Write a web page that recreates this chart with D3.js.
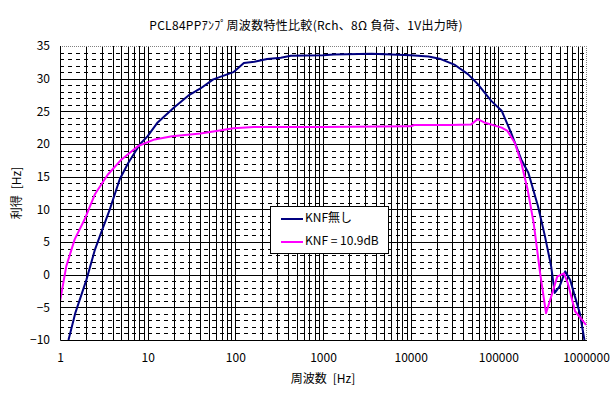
<!DOCTYPE html>
<html><head><meta charset="utf-8">
<script src="https://cdn.jsdelivr.net/npm/d3@7/dist/d3.min.js"></script>
<style>
html,body{margin:0;padding:0;background:#fff;}
text{font-family:"Noto Sans CJK JP","Noto Sans",sans-serif;font-size:12px;fill:#000;white-space:pre;}
</style></head>
<body><svg id="c" width="615" height="397"></svg>
<script>
const title = "PCL84PPｱﾝﾌﾟ周波数特性比較(Rch、8Ω 負荷、1V出力時)";
const xTitle = "周波数\u2002[Hz]";
const yTitle = "利得\u2002[Hz]";
const seriesNames = ["KNF無し", "KNF = 10.9dB"];
const seriesColors = ["#000080", "#ff00ff"];
const xTicks = [1, 10, 100, 1000, 10000, 100000, 1000000];
const yTicks = [-10, -5, 0, 5, 10, 15, 20, 25, 30, 35];

const freqNoNF = [1.25,1.5,2,2.5,2.85,3.7,4.8,6,8.2,10,13,20,29,40,56,95,125,165,230,330,430,1000,1330,3600,10000,16000,22000,32000,45000,58000,83000,109000,140000,183000,220000,283000,340000,400000,440000,500000,580000,660000,750000,850000,960000];
const gainNoNF = [-10,-5.8,-0.8,3.8,5.9,10,14.6,17.1,20,21.2,23.3,25.6,27.4,28.5,29.9,31.0,32.4,32.6,33.0,33.2,33.5,33.6,33.7,33.8,33.6,33.4,33.0,32.1,30.7,29.2,26.6,25.1,21.7,17.6,15.6,10.5,5.9,1.3,-2.8,-1.8,0.5,-0.8,-3.4,-5.9,-10];
const freqNF = [1,1.18,1.47,1.9,2.5,3.5,5,7.8,12,19,40,61,95,162,1000,10000,11000,28000,49000,58000,69000,109000,127000,154000,183000,216000,253000,300000,350000,400000,470000,560000,620000,750000,900000,1000000];
const gainNF = [-4.1,1.3,5.4,8.4,12.3,15.3,17.6,19.7,20.7,21.2,21.6,22.0,22.4,22.6,22.6,22.7,22.9,22.9,23.0,23.8,23.3,22.5,22.0,20.2,17.1,13.0,7.9,0.2,-5.9,-3.4,-0.3,0.2,-1.3,-5.6,-6.9,-7.7];

const L = 60, R = 586, T = 46, B = 340;
const svg = d3.select("#c");
const x = d3.scaleLog().domain([1, 1000000]).range([L, R]);
const y = d3.scaleLinear().domain([-10, 35]).range([B, T]);

// horizontal minor dashed gridlines
const minorY = d3.range(-9, 35).filter(v => v % 5 !== 0);
svg.append("g").selectAll("line").data(minorY).join("line")
  .attr("x1", L).attr("x2", R).attr("y1", d => Math.round(y(d)) + 0.5).attr("y2", d => Math.round(y(d)) + 0.5)
  .attr("stroke", "#000").attr("stroke-width", 1).attr("stroke-dasharray", "4,4");
// horizontal major gridlines
svg.append("g").selectAll("line").data(yTicks.filter(v => v > -10 && v < 35)).join("line")
  .attr("x1", L).attr("x2", R).attr("y1", d => Math.round(y(d)) + 0.5).attr("y2", d => Math.round(y(d)) + 0.5)
  .attr("stroke", "#000").attr("stroke-width", 1);
// vertical gridlines at every log tick
const vLines = [];
for (let e = 0; e < 6; e++) for (let m = 1; m <= 9; m++) { const v = m * Math.pow(10, e); if (v > 1) vLines.push(v); }
svg.append("g").selectAll("line").data(vLines).join("line")
  .attr("x1", d => Math.round(x(d)) + 0.5).attr("x2", d => Math.round(x(d)) + 0.5).attr("y1", T).attr("y2", B)
  .attr("stroke", "#000").attr("stroke-width", 1);

// plot border top/right (gray dotted)
svg.append("path").attr("d", `M${L},${T + 0.5}H${R + 0.5}V${B}`)
  .attr("fill", "none").attr("stroke", "#808080").attr("stroke-width", 1).attr("stroke-dasharray", "1,1");

// clip
svg.append("clipPath").attr("id", "clip").append("rect").attr("x", L).attr("y", T).attr("width", R - L + 1).attr("height", B - T + 1);

const line = d3.line().x(d => x(d[0])).y(d => y(d[1]));
const series = [d3.zip(freqNoNF, gainNoNF), d3.zip(freqNF, gainNF)];
svg.append("g").attr("clip-path", "url(#clip)").selectAll("path").data(series).join("path")
  .attr("d", line).attr("fill", "none").attr("stroke", (d, i) => seriesColors[i]).attr("stroke-width", 2)
  .attr("stroke-linejoin", "round");

// axes lines
svg.append("path").attr("d", `M${L + 0.5},${T}V${B + 0.5}H${R + 1}`).attr("fill", "none").attr("stroke", "#000").attr("stroke-width", 1);

// axis labels
const xAxis = d3.axisBottom(x).tickValues(xTicks).tickFormat(d3.format("d")).tickSize(0).tickPadding(0);
const gx = svg.append("g").attr("transform", `translate(0,${B + 13})`).call(xAxis);
gx.select(".domain").remove();
gx.selectAll("text").attr("font-size", 12).attr("fill", "#000").style("font-family", "'Noto Sans CJK JP',sans-serif");
const yAxis = d3.axisLeft(y).tickValues(yTicks).tickSize(0).tickPadding(0);
const gy = svg.append("g").attr("transform", `translate(${L - 10},0)`).call(yAxis);
gy.select(".domain").remove();
gy.selectAll("text").attr("font-size", 12).attr("fill", "#000").style("font-family", "'Noto Sans CJK JP',sans-serif");

// titles
svg.append("text").attr("x", 306).attr("y", 27).attr("text-anchor", "middle").attr("dominant-baseline", "middle")
  .style("letter-spacing", "0.3px").text(title);
svg.append("text").attr("x", (L + R) / 2).attr("y", 380).attr("text-anchor", "middle").attr("dominant-baseline", "middle").text(xTitle);
svg.append("text").attr("transform", `translate(18,${(T + B) / 2}) rotate(-90)`).attr("text-anchor", "middle").attr("dominant-baseline", "middle").text(yTitle);

// legend
const lg = svg.append("g");
lg.append("rect").attr("x", 270.5).attr("y", 206.5).attr("width", 118).attr("height", 47).attr("fill", "#fff").attr("stroke", "#000").attr("stroke-width", 1);
seriesNames.forEach((n, i) => {
  const ly = 219 + i * 23;
  lg.append("line").attr("x1", 281).attr("x2", 303).attr("y1", ly).attr("y2", ly).attr("stroke", seriesColors[i]).attr("stroke-width", 2);
  lg.append("text").attr("x", 305).attr("y", ly).attr("dominant-baseline", "middle").text(n);
});
</script></body></html>
